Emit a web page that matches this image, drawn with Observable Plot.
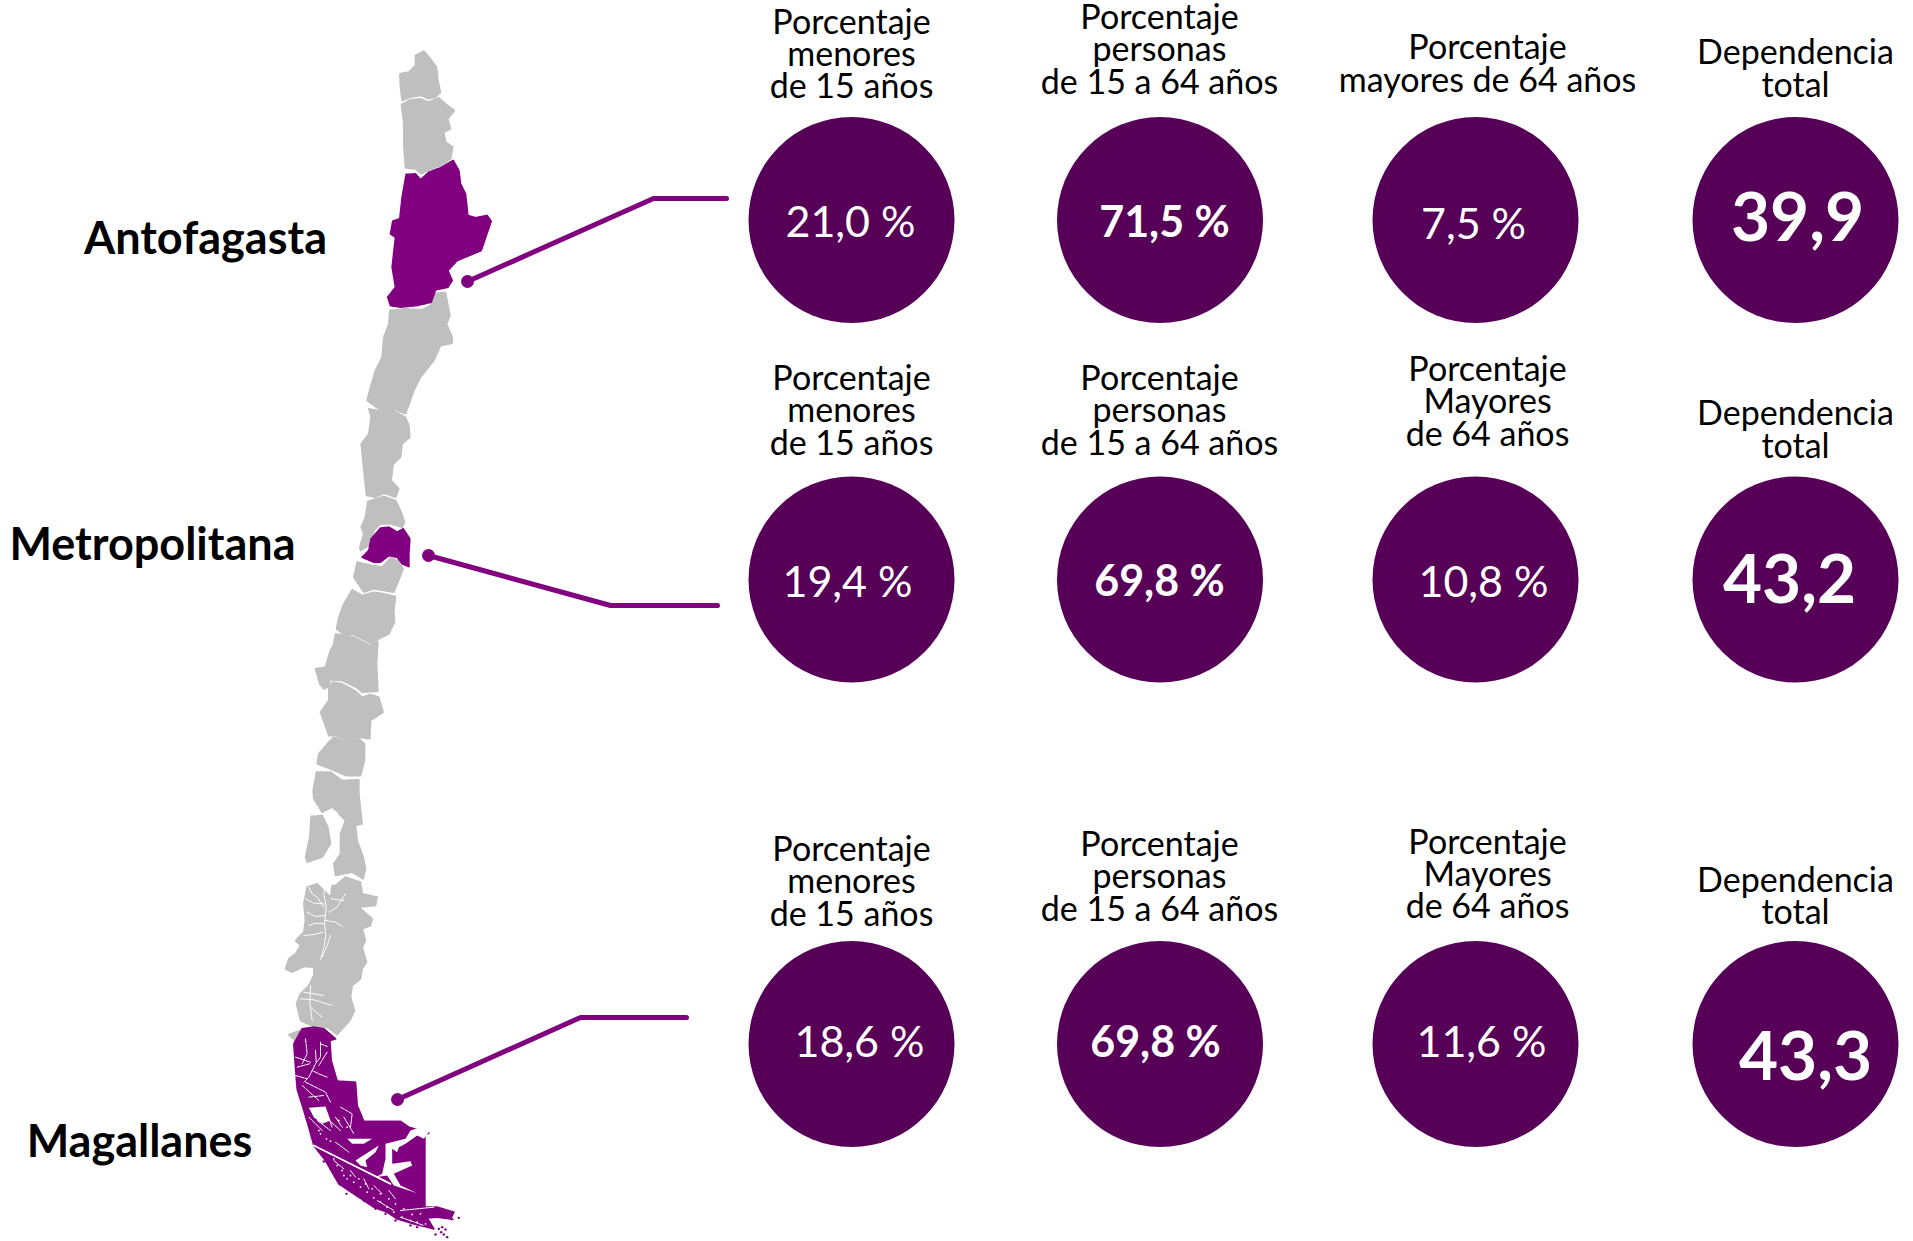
<!DOCTYPE html>
<html lang="es">
<head>
<meta charset="utf-8">
<title>Indicadores de edad por región</title>
<script src="https://cdn.jsdelivr.net/npm/d3@7"></script>
<script src="https://cdn.jsdelivr.net/npm/@observablehq/plot@0.6"></script>
<style>
html,body{margin:0;padding:0;background:#fff}
svg{display:block}
</style>
</head>
<body>
<div id="chart"></div>
<script>
// ---------- Data ----------
const regionNames = ["Antofagasta", "Metropolitana", "Magallanes"];
const menores15 = [21.0, 19.4, 18.6];
const personas15a64 = [71.5, 69.8, 69.8];
const mayores64 = [7.5, 10.8, 11.6];
const dependenciaTotal = [39.9, 43.2, 43.3];
const headersAntofagasta = ["Porcentaje\nmenores\nde 15 años", "Porcentaje\npersonas\nde 15 a 64 años", "Porcentaje\nmayores de 64 años", "Dependencia\ntotal"];
const headersMetropolitana = ["Porcentaje\nmenores\nde 15 años", "Porcentaje\npersonas\nde 15 a 64 años", "Porcentaje\nMayores\nde 64 años", "Dependencia\ntotal"];
const headersMagallanes = headersMetropolitana;

// Map outlines [a, b] within a tracing frame
const aricaOutline = [[165,75],[190,62],[210,85],[228,110],[232,150],[240,185],[225,200],[205,205],[180,195],[150,200],[125,210],[120,170],[118,130],[145,125],[165,105]];
const tarapacaOutline = [[123,222],[150,208],[180,205],[205,215],[235,202],[260,225],[282,240],[262,265],[270,295],[250,305],[255,335],[277,350],[270,385],[240,405],[205,418],[182,430],[165,415],[135,412],[130,350],[130,280]];
const antofagastaOutline = [[137,432],[165,430],[180,448],[205,425],[240,412],[278,390],[295,420],[300,460],[315,490],[322,555],[345,562],[380,555],[392,572],[362,660],[290,690],[262,720],[275,750],[262,770],[225,778],[212,815],[170,825],[120,830],[90,825],[82,800],[105,770],[95,710],[105,620],[90,610],[97,572],[118,565],[125,500]];
const atacamaOutline = [[148,30],[190,25],[245,28],[270,15],[285,-21],[315,-24],[328,45],[318,70],[335,110],[335,128],[300,135],[280,180],[240,230],[220,270],[195,340],[170,330],[155,310],[130,320],[110,322],[80,300],[90,260],[105,210],[125,170],[130,110],[145,70]];
const coquimboOutline = [[85,325],[110,330],[130,315],[150,305],[165,335],[195,350],[205,375],[208,410],[185,430],[180,470],[158,490],[152,540],[175,565],[165,590],[130,578],[105,590],[78,585],[70,510],[62,430],[85,400],[92,350]];
const valparaisoOutline = [[82,603],[130,588],[165,600],[180,630],[192,665],[185,680],[150,670],[120,670],[100,690],[85,735],[60,750],[58,740],[70,700],[62,680],[75,650]];
const metropolitanaOutline = [[92,715],[120,683],[145,680],[170,695],[188,685],[208,715],[205,760],[205,798],[185,790],[170,770],[145,765],[120,785],[100,785],[65,770],[85,750]];
const ohigginsOutline = [[50,785],[95,795],[125,800],[150,772],[170,780],[188,805],[170,850],[160,875],[130,870],[100,865],[70,875],[40,830]];
const mauleOutline = [[185,-32],[215,-15],[250,-25],[280,-20],[315,-12],[310,30],[312,65],[295,100],[265,115],[245,130],[215,115],[185,100],[165,105],[138,85],[145,50],[160,10]];
const biobioOutline = [[130,130],[135,100],[185,108],[240,135],[262,125],[258,190],[262,272],[215,275],[200,262],[155,240],[118,238],[115,258],[100,265],[88,250],[75,205],[105,200],[118,155]];
const araucaniaOutline = [[115,265],[125,245],[155,250],[195,272],[215,290],[240,282],[265,290],[278,335],[240,360],[238,415],[205,410],[175,420],[135,405],[115,405],[90,335],[115,300]];
const losRiosOutline = [[115,425],[130,410],[175,425],[205,415],[222,430],[222,480],[210,525],[165,525],[120,505],[80,490],[85,460]];
const losLagosOutline = [[78,515],[120,515],[155,540],[205,538],[205,580],[215,670],[195,675],[200,720],[218,770],[225,805],[218,835],[185,815],[135,825],[130,790],[150,760],[150,700],[165,660],[145,640],[175,615],[150,640],[125,620],[95,635],[70,595],[68,570]];
const chiloeOutline = [[62,648],[95,645],[112,680],[120,730],[95,770],[50,785],[45,770],[58,710]];
const aysenOutline = [[165,75],[195,50],[240,65],[245,100],[290,110],[285,135],[235,140],[275,175],[270,195],[245,205],[255,240],[245,260],[258,305],[245,325],[240,355],[215,375],[210,410],[222,450],[208,480],[170,522],[140,500],[100,498],[60,480],[48,430],[60,400],[85,375],[100,345],[100,320],[70,318],[35,335],[15,325],[25,295],[45,280],[60,255],[45,240],[70,215],[75,180],[70,130],[80,80],[110,70],[130,90],[150,110],[155,75]];
const aysenFringeOutline = [[10,42],[45,30],[55,50],[35,65],[15,48]];
const magallanesOutline = [[65,55],[100,50],[130,55],[165,85],[148,90],[152,150],[170,212],[225,215],[230,285],[250,333],[360,333],[385,350],[445,368],[433,372],[433,590],[470,590],[520,605],[510,625],[470,620],[440,622],[460,655],[400,640],[350,625],[320,605],[280,590],[220,550],[175,520],[135,450],[100,405],[85,350],[70,300],[50,235],[45,170],[40,100]];

// White channels and fjords across the south
const aysenChannels = [
  [[135,70],[130,100],[137,140],[132,190],[136,225],[130,260],[120,298]], [[85,80],[95,100],[110,110],[130,140]], [[75,115],[100,128],[130,130]],
  [[80,155],[105,168],[132,165]], [[85,195],[105,188],[130,190]], [[70,225],[100,222],[128,215]], [[150,225],[140,255],[125,290]],
  [[135,180],[165,185],[185,198]], [[195,100],[170,140],[145,155]], [[152,115],[190,120]],
  [[90,375],[88,430],[95,480]], [[60,415],[100,418],[155,435]], [[70,395],[130,405]], [[90,440],[125,470]]
];
const magallanesChannels = [
  [[105,65],[105,110],[90,130],[70,170],[55,185]], [[105,70],[125,78]], [[90,90],[92,125]],
  [[125,95],[100,135]], [[60,55],[65,100],[50,130]], [[30,110],[75,125]], [[72,130],[35,140]],
  [[30,165],[65,175]], [[60,185],[120,215],[135,245]], [[50,195],[100,240]], [[70,230],[115,225]],
  [[125,170],[100,160],[80,150]], [[165,260],[200,280],[195,320]], [[150,290],[170,320]],
  [[125,280],[140,320]], [[70,290],[110,330]]
];
const magallanesPatch = [[70,262],[120,258],[135,300],[110,310],[85,290]];
const otwayBay = [[110,85],[185,85],[160,100],[125,100]];
const skyringBay = [[135,150],[205,105],[195,125],[165,150],[170,170],[150,165]];
const inutilBay = [[225,100],[285,85],[300,60],[325,52],[355,65],[340,85],[320,75],[285,100],[265,110],[260,125],[245,115],[245,160],[300,152],[305,165],[250,190],[270,225],[320,248],[250,225],[230,195],[195,200],[215,190],[225,145]];
const straitLine = [[10,105],[100,150],[200,200],[240,220]];
const southChannels = [
  [[270,300],[370,290]], [[70,150],[100,175]], [[120,180],[135,200]],
  [[160,205],[175,235]], [[190,225],[215,250]], [[235,240],[255,265]], [[200,270],[250,300]], [[270,320],[340,345]],
  [[20,30],[60,60]], [[40,15],[90,60]], [[75,95],[115,125]], [[100,20],[130,70]]
];
const whiteSpecks = [[60,130],[80,165],[95,180],[110,205],[130,215],[150,230],[170,245],[190,262],[210,275],[230,290],[250,305],[275,320],[300,330],[320,335],[345,340],[70,145],[100,195],[120,195],[145,205],[165,220],[185,235],[210,250],[235,265],[255,280],[280,295],[305,312],[330,310],[30,70],[25,60],[48,85],[60,92],[110,50],[85,30]];
const purpleSpecks = [[40,153],[60,175],[75,195],[90,215],[105,228],[108,250],[125,243],[160,270],[195,295],[225,310],[255,330],[300,345],[320,350],[385,355],[392,365],[400,372],[375,372],[410,380],[445,322],[425,326],[395,350],[405,357]];

// ---------- Layout ----------
const columnX = [851, 1159.5, 1475, 1795];
const rowY = [219.5, 579, 1043.5];
const circleRadius = 103;
const headerAnchors = [
  [[851,55],[1159,50.5],[1487,64.5],[1795,69.5]],
  [[851,411.5],[1159,411.5],[1487,402.5],[1795,430.5]],
  [[851,882.5],[1159,877.5],[1487,875],[1795,897]]
];
const valueAnchors = [
  [[850,223],[1164,223],[1473,225],[1797,219]],
  [[847,583],[1159,582],[1483,583],[1789,581]],
  [[859,1043],[1155,1043],[1481,1043],[1805,1058]]
];
const nameAnchors = [[205,239],[152,545],[139,1142]];
const connectors = [
  [[467,281],[653,198],[726,198]],
  [[428,555],[610,605],[717,605]],
  [[397,1099],[580,1017],[686,1017]]
];
const fontFamily = "Lato, sans-serif";
const mapGrey = "#bfbfbf", mapPurple = "#800080", circlePurple = "#570057";

// ---------- Build tables ----------
const frame = (ox, oy, pts) => pts.map(([a, b]) => [ox + a / 3, oy + b / 3]);
const table = (name, pts) => pts.map(([x, y]) => ({name, x, y}));
const greyShapes = [
  ...table("arica", frame(360,30,aricaOutline)), ...table("tarapaca", frame(360,30,tarapacaOutline)),
  ...table("atacama", frame(340,300,atacamaOutline)), ...table("coquimbo", frame(340,300,coquimboOutline)),
  ...table("valparaiso", frame(340,300,valparaisoOutline)), ...table("ohiggins", frame(340,300,ohigginsOutline)),
  ...table("maule", frame(290,600,mauleOutline)), ...table("biobio", frame(290,600,biobioOutline)),
  ...table("araucania", frame(290,600,araucaniaOutline)), ...table("losrios", frame(290,600,losRiosOutline)),
  ...table("loslagos", frame(290,600,losLagosOutline)), ...table("chiloe", frame(290,600,chiloeOutline)),
  ...table("aysen", frame(280,860,aysenOutline)), ...table("aysenfringe", frame(285,1020,aysenFringeOutline))
];
const purpleShapes = [
  ...table("antofagasta", frame(360,30,antofagastaOutline)),
  ...table("metropolitana", frame(340,300,metropolitanaOutline)),
  ...table("magallanes", frame(280,1010,magallanesOutline))
];
const whiteShapes = [
  ...table("patch", frame(285,1020,magallanesPatch)), ...table("otway", frame(310,1110,otwayBay)),
  ...table("skyring", frame(310,1110,skyringBay)), ...table("inutil", frame(310,1110,inutilBay))
];
const channelRows = (lists, ox, oy, tag) => lists.flatMap((l, i) => table(tag + i, frame(ox, oy, l)));
const aysenLines = channelRows(aysenChannels, 280, 860, "ay");
const southLines = [...channelRows(magallanesChannels, 285, 1020, "ma"), ...channelRows(southChannels, 310, 1110, "so")];
const strait = table("strait", frame(310,1110,straitLine));
const speckWhite = table("w", frame(310,1110,whiteSpecks));
const speckPurple = table("p", frame(310,1110,purpleSpecks));

const series = [menores15, personas15a64, mayores64, dependenciaTotal];
const headerSets = [headersAntofagasta, headersMetropolitana, headersMagallanes];
const comma = (v) => v.toFixed(1).replace(".", ",");
const cells = regionNames.flatMap((region, r) => series.map((values, c) => ({
  region, r, c,
  x: columnX[c], y: rowY[r],
  header: headerSets[r][c],
  hx: headerAnchors[r][c][0], hy: headerAnchors[r][c][1],
  vx: valueAnchors[r][c][0], vy: valueAnchors[r][c][1],
  label: c === 3 ? comma(values[r]) : comma(values[r]) + " %"
})));
const names = regionNames.map((name, i) => ({name, x: nameAnchors[i][0], y: nameAnchors[i][1]}));
const connectorRows = connectors.flatMap((l, i) => table("c" + i, l));
const connectorEnds = connectors.map((l) => ({x: l[0][0], y: l[0][1]}));

// ---------- Chart ----------
const closed = {x: "x", y: "y", z: "name", curve: "linear-closed", strokeWidth: 1.8, strokeDasharray: "1.3 1.3"};
const chart = Plot.plot({
  width: 1913, height: 1241,
  margin: 0,
  style: {background: "#fff", fontFamily},
  x: {domain: [0, 1913], range: [0, 1913], axis: null},
  y: {domain: [0, 1241], range: [0, 1241], axis: null},
  marks: [
    Plot.line(greyShapes, {...closed, fill: mapGrey, stroke: mapGrey}),
    Plot.line(aysenLines, {x: "x", y: "y", z: "name", stroke: "#fff", strokeWidth: 1, strokeDasharray: "3 1"}),
    Plot.line(purpleShapes, {...closed, fill: mapPurple, stroke: mapPurple}),
    Plot.dot(speckPurple, {x: "x", y: "y", r: 1.2, fill: mapPurple}),
    Plot.line(southLines, {x: "x", y: "y", z: "name", stroke: "#fff", strokeWidth: 1, strokeDasharray: "4 1"}),
    Plot.line(strait, {x: "x", y: "y", stroke: "#fff", strokeWidth: 1.8}),
    Plot.line(whiteShapes, {x: "x", y: "y", z: "name", curve: "linear-closed", stroke: "none", fill: "#fff"}),
    Plot.dot(speckWhite, {x: "x", y: "y", r: 0.9, fill: "#fff"}),
    Plot.line(connectorRows, {x: "x", y: "y", z: "name", stroke: mapPurple, strokeWidth: 5, curve: "linear"}),
    Plot.dot(connectorEnds, {x: "x", y: "y", r: 6.5, fill: mapPurple}),
    Plot.dot(cells, {x: "x", y: "y", r: circleRadius, fill: circlePurple}),
    Plot.text(cells, {x: "hx", y: "hy", text: "header", fontSize: 34, lineHeight: 0.95, fill: "#000", textAnchor: "middle", fontFamily}),
    Plot.text(cells.filter((d) => d.c === 0 || d.c === 2), {x: "vx", y: "vy", text: "label", fontSize: 43, fill: "#fff", fontFamily}),
    Plot.text(cells.filter((d) => d.c === 1), {x: "vx", y: "vy", text: "label", fontSize: 43, fontWeight: 700, fill: "#fff", fontFamily}),
    Plot.text(cells.filter((d) => d.c === 3), {x: "vx", y: "vy", text: "label", fontSize: 67.5, fontWeight: 700, fill: "#fff", fontFamily}),
    Plot.text(names, {x: "x", y: "y", text: "name", fontSize: 45, fontWeight: 700, fill: "#000", fontFamily})
  ]
});
document.getElementById("chart").append(chart);
</script>
</body>
</html>
